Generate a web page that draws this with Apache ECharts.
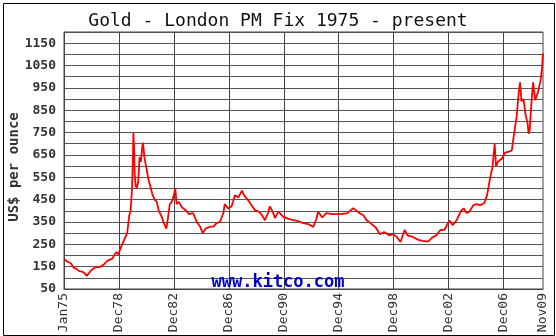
<!DOCTYPE html>
<html>
<head>
<meta charset="utf-8">
<script src="https://cdn.jsdelivr.net/npm/echarts@6/dist/echarts.min.js"></script>
<style>html,body{margin:0;padding:0;background:#fff;}#c{width:556px;height:336px;}</style>
</head>
<body>
<div id="c"></div>
<script>
var years = [1975.0,1975.1,1975.25,1975.5,1975.7,1975.9,1976.1,1976.3,1976.5,1976.65,1976.8,1977.0,1977.3,1977.6,1977.9,1978.2,1978.5,1978.8,1978.95,1979.2,1979.45,1979.6,1979.75,1979.85,1979.95,1980.02,1980.05,1980.1,1980.15,1980.22,1980.3,1980.4,1980.5,1980.6,1980.7,1980.75,1980.85,1981.0,1981.15,1981.3,1981.45,1981.6,1981.75,1981.9,1982.1,1982.3,1982.45,1982.55,1982.7,1982.85,1983.0,1983.1,1983.2,1983.36,1983.6,1983.9,1984.1,1984.4,1984.66,1984.9,1985.1,1985.3,1985.6,1985.9,1986.1,1986.35,1986.6,1986.7,1986.96,1987.2,1987.45,1987.7,1987.95,1988.1,1988.4,1988.7,1988.9,1989.2,1989.4,1989.63,1989.85,1989.99,1990.2,1990.36,1990.6,1990.96,1991.3,1991.7,1992.0,1992.4,1992.8,1993.15,1993.35,1993.5,1993.8,1994.1,1994.5,1995.1,1995.6,1996.05,1996.5,1996.8,1997.0,1997.3,1997.7,1998.0,1998.3,1998.7,1998.9,1999.2,1999.5,1999.6,1999.8,2000.0,2000.4,2000.8,2001.1,2001.5,2001.8,2002.1,2002.4,2002.7,2002.95,2003.1,2003.3,2003.6,2003.9,2004.1,2004.3,2004.5,2004.8,2005.0,2005.3,2005.6,2005.8,2006.0,2006.2,2006.35,2006.45,2006.6,2006.9,2007.1,2007.4,2007.6,2007.75,2007.95,2008.1,2008.2,2008.3,2008.45,2008.6,2008.75,2008.82,2008.9,2009.0,2009.1,2009.15,2009.3,2009.5,2009.7,2009.8,2009.87];
var prices = [185,182,172,165,145,140,130,128,120,108,120,135,148,148,160,178,185,215,205,245,280,300,380,400,500,640,748,690,560,510,500,530,640,620,690,705,640,590,540,505,470,450,440,400,375,340,320,360,430,440,470,500,430,440,415,400,385,390,350,330,300,320,328,330,345,350,390,430,410,420,470,460,490,470,448,420,403,395,381,358,390,420,395,367,396,373,365,358,355,345,340,328,360,396,370,390,385,385,388,412,390,380,360,345,325,295,305,290,295,285,260,255,315,290,283,270,265,262,280,290,314,315,345,355,335,360,400,410,390,395,425,430,425,435,470,540,600,700,600,620,635,660,665,670,740,820,930,975,890,900,830,790,745,760,860,940,975,895,930,985,1040,1105];
var xTickValues = [1975, 1979, 1983, 1987, 1991, 1995, 1999, 2003, 2007, 2009.87];
var xTickLabels = ['Jan75','Dec78','Dec82','Dec86','Dec90','Dec94','Dec98','Dec02','Dec06','Nov09'];
var yMin = 50, yMax = 1200, yStep = 50;

var data = years.map(function(y, i){ return [y, prices[i]]; });
var chart = echarts.init(document.getElementById('c'), null, {renderer: 'canvas'});
chart.setOption({
  animation: false,
  backgroundColor: '#fff',
  title: {
    text: 'Gold - London PM Fix 1975 - present',
    left: 'center', top: 7,
    textStyle: {fontFamily: 'DejaVu Sans Mono', fontSize: 18, fontWeight: 'normal', color: '#111'}
  },
  grid: {left: 64, right: 13, top: 32, bottom: 47, show: true, borderColor: '#444', borderWidth: 1, backgroundColor: '#fff'},
  xAxis: {
    type: 'value', min: 1975, max: 2009.87,
    axisLine: {show: true, lineStyle: {color: '#444'}},
    axisTick: {show: false},
    splitLine: {show: false},
    axisLabel: {
      customValues: xTickValues,
      showMinLabel: true, showMaxLabel: true,
      rotate: 90, margin: 4,
      fontFamily: 'DejaVu Sans Mono', fontSize: 13, color: '#333',
      formatter: function(v){
        for (var i = 0; i < xTickValues.length; i++) if (Math.abs(xTickValues[i]-v) < 0.01) return xTickLabels[i];
        return '';
      }
    }
  },
  yAxis: {
    type: 'value', min: yMin, max: yMax, interval: yStep,
    axisLine: {show: true, lineStyle: {color: '#444'}},
    axisTick: {show: false},
    splitLine: {show: true, lineStyle: {color: '#555', width: 1}},
    axisLabel: {
      margin: 8,
      fontFamily: 'DejaVu Sans Mono', fontSize: 13, fontWeight: 'bold', color: '#333',
      formatter: function(v){ return ((v - 50) % 100 === 0 && v < 1200) ? String(v) : ''; }
    }
  },
  graphic: [
    {type: 'rect', left: 1, top: 1, shape: {width: 551, height: 332}, style: {fill: 'none', stroke: '#000', lineWidth: 1}, silent: true, z: 100},
    {type: 'text', x: 14, y: 167, rotation: Math.PI/2, style: {text: 'US$ per ounce', fontFamily: 'DejaVu Sans Mono', fontSize: 14, fontWeight: 'bold', fill: '#333', align: 'center', verticalAlign: 'middle'}},
    {type: 'text', x: 278, y: 283, style: {text: 'www.kitco.com', fontFamily: 'DejaVu Sans Mono', fontSize: 17, fontWeight: 'bold', fill: '#0000cc', align: 'center', verticalAlign: 'middle'}, z: 50}
  ],
  series: [{
    type: 'line', data: [], z: 1, silent: true,
    markLine: {
      silent: true, symbol: 'none', label: {show: false},
      lineStyle: {color: '#444', width: 1, type: 'solid'},
      data: xTickValues.slice(1, -1).map(function(v){ return {xAxis: v}; })
    }
  }, {
    type: 'line', data: data, showSymbol: false, symbol: 'none',
    lineStyle: {color: '#ff0000', width: 1.8},
    z: 10
  }]
});
</script>
</body>
</html>
